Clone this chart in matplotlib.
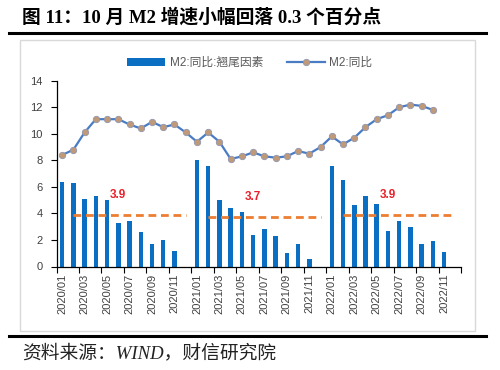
import matplotlib
matplotlib.use("Agg")
import matplotlib.pyplot as plt
from matplotlib.patches import Rectangle
from matplotlib.lines import Line2D
import numpy as np

plt.rcParams['font.family'] = ['Liberation Sans', 'Noto Sans CJK SC', 'DejaVu Sans']

categories = [
    "2020/01", "2020/02", "2020/03", "2020/04", "2020/05", "2020/06",
    "2020/07", "2020/08", "2020/09", "2020/10", "2020/11", "2020/12",
    "2021/01", "2021/02", "2021/03", "2021/04", "2021/05", "2021/06",
    "2021/07", "2021/08", "2021/09", "2021/10", "2021/11", "2021/12",
    "2022/01", "2022/02", "2022/03", "2022/04", "2022/05", "2022/06",
    "2022/07", "2022/08", "2022/09", "2022/10", "2022/11", "2022/12",
]
tail_factor = [6.4, 6.3, 5.1, 5.3, 5.0, 3.3, 3.4, 2.6, 1.7, 2.0, 1.2, np.nan,
               8.0, 7.6, 5.0, 4.4, 4.1, 2.4, 2.8, 2.3, 1.0, 1.7, 0.6, np.nan,
               7.6, 6.5, 4.6, 5.3, 4.7, 2.7, 3.4, 3.0, 1.7, 1.9, 1.1, np.nan]
m2_yoy = [8.4, 8.8, 10.1, 11.1, 11.1, 11.1, 10.7, 10.4, 10.9, 10.5, 10.7, 10.1,
          9.4, 10.1, 9.4, 8.1, 8.3, 8.6, 8.3, 8.2, 8.3, 8.7, 8.5, 9.0,
          9.8, 9.2, 9.7, 10.5, 11.1, 11.4, 12.0, 12.2, 12.1, 11.8, np.nan, np.nan]
year_avg = [3.9, 3.7, 3.9]
avg_labels = ["3.9", "3.7", "3.9"]
yticks = [0, 2, 4, 6, 8, 10, 12, 14]
legend_labels = ["M2:同比:翘尾因素", "M2:同比"]

fig = plt.figure(figsize=(5.0, 3.7), dpi=100)
W, H = 500, 370

# frame box
fig.patches.append(Rectangle((20 / W, 1 - 331 / H), 455 / W, 291 / H,
                             transform=fig.transFigure, fill=False,
                             edgecolor='#D9D9D9', linewidth=1.0))
# top and bottom rules
fig.add_artist(Line2D([9 / W, 486 / W], [1 - 33 / H, 1 - 33 / H],
                      transform=fig.transFigure, color='black', linewidth=2.2))
fig.add_artist(Line2D([9 / W, 486 / W], [1 - 336 / H, 1 - 336 / H],
                      transform=fig.transFigure, color='black', linewidth=2.2))

fig.text(22 / W, 1 - 17 / H, "图 11：10 月 M2 增速小幅回落 0.3 个百分点",
         fontsize=13.5, fontweight='bold', va='center', ha='left',
         family=['Liberation Serif', 'Noto Sans CJK SC', 'DejaVu Sans'])
fig.text(22 / W, 1 - 353 / H, "资料来源：WIND，财信研究院",
         fontsize=13.5, va='center', ha='left', style='italic',
         family=['Liberation Serif', 'Noto Sans CJK SC', 'DejaVu Sans'], color='#222222')

ax = fig.add_axes([56.5 / W, 1 - 266.5 / H, (461 - 56.5) / W, (266.5 - 80.7) / H])
x = np.arange(len(categories))

bars = ax.bar(x, tail_factor, width=0.4, color='#0A6FC2', zorder=2)
line, = ax.plot(x, m2_yoy, color='#4A7CC4', linewidth=1.6, marker='o',
                markersize=4.6, markerfacecolor='#C09A78',
                markeredgecolor='#8F96B0', markeredgewidth=0.6, zorder=3)

for i, v in enumerate(year_avg):
    ax.plot([i * 12 + 1, i * 12 + 11], [v, v], color='#ED7D31',
            linewidth=2.0, dashes=(2.8, 1.7), zorder=4)
    ax.text(i * 12 + 5, v + 1.5, avg_labels[i], color='#E8202A',
            fontsize=8.5, fontweight='bold', ha='center', va='center')

ax.set_xlim(-0.5, len(categories) - 0.5)
ax.set_ylim(0, 14)
ax.set_yticks(yticks)
ax.set_yticklabels([str(t) for t in yticks])
ax.set_xticks(x[::2])
ax.set_xticklabels(categories[::2], rotation=90)
ax.set_xticks(np.arange(-0.5, len(categories), 2), minor=True)
ax.tick_params(axis='x', which='major', length=0, pad=5, labelsize=8, colors='#404040')
ax.tick_params(axis='x', which='minor', length=4, width=0.8, direction='out', color='black')
ax.tick_params(axis='y', length=4, width=0.8, direction='out', labelsize=8,
               labelcolor='#404040', color='black', pad=6)

for s in ['top', 'right']:
    ax.spines[s].set_visible(False)
for s in ['left', 'bottom']:
    ax.spines[s].set_color('black')
    ax.spines[s].set_linewidth(0.9)

leg = fig.legend([bars, line], legend_labels, loc='center',
                 bbox_to_anchor=(250 / W, 1 - 63 / H), ncol=2, frameon=False,
                 fontsize=8.5, handlelength=3.2, handletextpad=0.4,
                 columnspacing=2.0, handleheight=0.6)
for t in leg.get_texts():
    t.set_color('#595959')

fig.savefig("out.png", dpi=100)
